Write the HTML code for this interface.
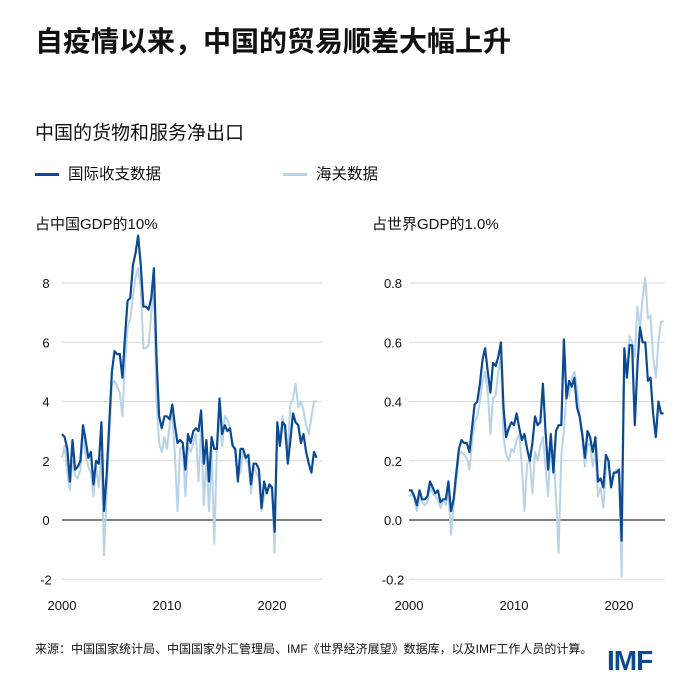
<!DOCTYPE html>
<html><head><meta charset="utf-8">
<style>
body{margin:0;background:#fff;font-family:"Liberation Sans","Noto Sans CJK SC",sans-serif;}
#wrap{position:relative;width:700px;height:700px;overflow:hidden;}
.t{position:absolute;white-space:nowrap;color:#111;}
</style></head><body>
<div id="wrap">
<div class="t" style="left:35px;top:20px;font-size:28px;font-weight:bold;">自疫情以来，中国的贸易顺差大幅上升</div>
<div class="t" style="left:35px;top:118px;font-size:19px;">中国的货物和服务净出口</div>
<div class="t" style="left:35px;top:162px;font-size:15.5px;"><span style="display:inline-block;width:24px;height:3px;background:#0b4a93;vertical-align:middle;margin-right:9px;"></span>国际收支数据</div>
<div class="t" style="left:283px;top:162px;font-size:15.5px;"><span style="display:inline-block;width:24px;height:3px;background:#b8d3e8;vertical-align:middle;margin-right:9px;"></span>海关数据</div>
<div class="t" style="left:35px;top:213px;font-size:15px;">占中国GDP的10%</div>
<div class="t" style="left:372px;top:213px;font-size:15px;">占世界GDP的1.0%</div>
<div class="t" style="left:35px;top:640px;font-size:12px;">来源：中国国家统计局、中国国家外汇管理局、IMF《世界经济展望》数据库，以及IMF工作人员的计算。</div>
<div class="t" style="left:607px;top:645px;font-size:28px;font-weight:bold;color:#0b4a93;letter-spacing:-1px;">IMF</div>
<svg id="svg" width="700" height="700" style="position:absolute;left:0;top:0;"></svg>
</div>
<script>
const leftBop=[2.9,2.8,2.4,1.3,2.7,1.7,1.8,2.0,3.2,2.7,2.1,2.3,1.2,2.0,1.9,3.3,0.3,1.5,3.3,5.0,5.7,5.6,5.6,4.8,6.2,7.4,7.5,8.6,9.0,9.6,8.6,7.2,7.2,7.1,7.5,8.5,5.5,3.5,3.1,3.5,3.5,3.4,3.9,3.2,2.6,2.7,2.6,1.7,2.9,2.6,3.0,3.1,3.0,3.7,1.9,2.7,1.3,2.8,2.4,2.4,4.1,2.9,3.2,3.0,3.1,2.5,2.4,1.3,2.4,2.4,2.1,2.2,1.2,1.9,1.9,1.7,0.4,1.3,0.9,1.2,1.1,-0.4,3.3,2.5,3.3,3.2,1.9,2.7,3.6,3.3,3.2,2.6,2.9,2.3,1.9,1.6,2.3,2.1];
const leftCustoms=[2.1,2.5,1.6,1.0,2.0,1.5,1.4,1.7,2.8,2.2,1.8,1.6,0.8,1.8,1.1,2.2,-1.2,0.9,2.8,4.6,4.7,4.5,4.3,3.5,5.3,6.5,6.8,7.5,8.2,8.5,7.8,5.8,5.8,5.9,7.0,7.8,4.0,2.6,2.3,2.8,2.4,3.2,3.6,2.2,0.3,2.4,2.5,0.8,2.5,2.3,2.6,2.9,1.3,3.2,0.5,2.1,0.3,2.4,-0.8,2.4,3.5,2.5,3.5,3.4,3.1,2.6,2.2,1.5,1.6,2.3,2.0,1.9,0.9,1.8,1.6,1.4,0.3,0.8,1.0,1.2,1.0,-1.1,3.0,2.8,3.5,2.8,2.4,3.9,4.1,4.6,3.8,4.0,3.7,3.2,2.9,3.5,4.0,4.0];
const rightBop=[0.10,0.10,0.08,0.05,0.10,0.07,0.07,0.08,0.13,0.11,0.09,0.10,0.06,0.07,0.07,0.13,0.03,0.07,0.16,0.24,0.27,0.26,0.26,0.23,0.31,0.39,0.40,0.46,0.54,0.58,0.50,0.43,0.53,0.52,0.55,0.60,0.38,0.28,0.31,0.33,0.32,0.36,0.31,0.27,0.29,0.24,0.20,0.26,0.35,0.32,0.33,0.46,0.30,0.17,0.29,0.16,0.30,0.32,0.32,0.61,0.41,0.47,0.45,0.48,0.38,0.35,0.29,0.21,0.30,0.28,0.23,0.28,0.13,0.14,0.11,0.22,0.20,0.11,0.16,0.16,0.17,-0.07,0.58,0.48,0.59,0.59,0.32,0.52,0.65,0.60,0.60,0.47,0.48,0.36,0.28,0.40,0.36,0.36];
const rightCustoms=[0.08,0.09,0.07,0.03,0.08,0.06,0.05,0.06,0.11,0.09,0.08,0.07,0.04,0.07,0.05,0.09,-0.05,0.05,0.13,0.22,0.23,0.22,0.21,0.17,0.26,0.33,0.35,0.40,0.47,0.50,0.43,0.29,0.41,0.42,0.50,0.55,0.28,0.22,0.20,0.24,0.23,0.27,0.29,0.18,0.03,0.19,0.20,0.09,0.23,0.20,0.25,0.28,0.18,0.08,0.26,0.22,0.08,-0.11,0.22,0.30,0.43,0.42,0.48,0.50,0.45,0.35,0.27,0.18,0.25,0.26,0.18,0.23,0.08,0.11,0.04,0.17,0.19,0.12,0.16,0.17,0.16,-0.19,0.55,0.50,0.62,0.60,0.55,0.72,0.65,0.75,0.82,0.68,0.69,0.55,0.48,0.60,0.67,0.67];
const leftTicks=[-2,0,2,4,6,8];
const rightTicks=[-0.2,0,0.2,0.4,0.6,0.8];
const xTicks=[2000,2010,2020];

const NS="http://www.w3.org/2000/svg";
const svg=document.getElementById('svg');
function mk(tag,attrs){const e=document.createElementNS(NS,tag);for(const k in attrs)e.setAttribute(k,attrs[k]);svg.appendChild(e);return e;}
function panel(p){
  const xs=y=>p.x0+(y-2000)*10.5;
  const ys=v=>520-(v/p.step)*59.25;
  p.ticks.forEach(t=>{
    const l=mk('line',{x1:p.x0,x2:p.x1,y1:ys(t),y2:ys(t),stroke:t===0?'#333':'#dcdcdc','stroke-width':t===0?1.3:1});
    
    
    const tx=mk('text',{x:p.x0-16,y:ys(t)+5,'font-size':13,'text-anchor':'middle',fill:'#111','font-family':'Liberation Sans, sans-serif'});
    tx.textContent=p.fmt(t);
    
    
  });
  xTicks.forEach(t=>{
    const tx=mk('text',{x:xs(t),y:610,'font-size':13,'text-anchor':'middle',fill:'#111','font-family':'Liberation Sans, sans-serif'});
    tx.textContent=t;
    
    
  });
  [[p.light,'#b8d3e8',2,'customs'],[p.dark,'#0b4a93',2.2,'bop']].forEach(([d,c,w,n])=>{
    const pts=d.map((v,i)=>xs(2000+i/4).toFixed(1)+','+ys(v).toFixed(1)).join(' ');
    const pl=mk('polyline',{points:pts,fill:'none',stroke:c,'stroke-width':w,'stroke-linejoin':'round'});
    
    
  });
}
panel({name:'left-chart',x0:62,x1:322,step:2,ticks:leftTicks,fmt:t=>String(t),dark:leftBop,light:leftCustoms});
panel({name:'right-chart',x0:409,x1:665,step:0.2,ticks:rightTicks,fmt:t=>t.toFixed(1),dark:rightBop,light:rightCustoms});
</script>
</body></html>
